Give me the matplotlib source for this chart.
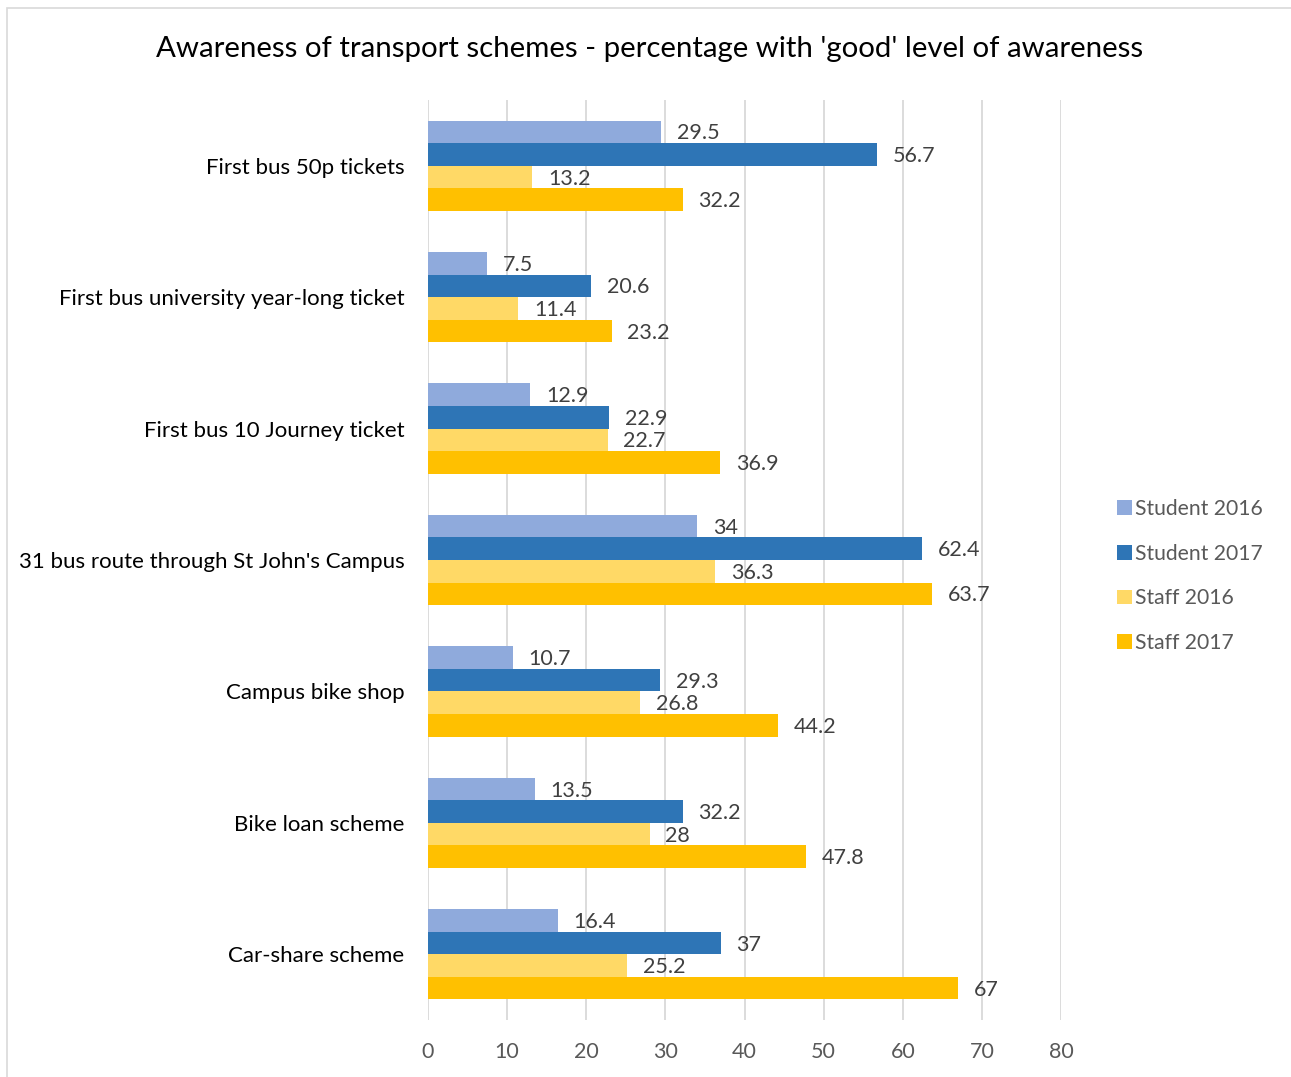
import numpy as np
import matplotlib.pyplot as plt
from matplotlib.patches import Rectangle

# chart data, top to bottom
categories = [
    "First bus 50p tickets",
    "First bus university year-long ticket",
    "First bus 10 Journey ticket",
    "31 bus route through St John's Campus",
    "Campus bike shop",
    "Bike loan scheme",
    "Car-share scheme",
]
series_names = ["Student 2016", "Student 2017", "Staff 2016", "Staff 2017"]
student_2016 = [29.5, 7.5, 12.9, 34, 10.7, 13.5, 16.4]
student_2017 = [56.7, 20.6, 22.9, 62.4, 29.3, 32.2, 37]
staff_2016 = [13.2, 11.4, 22.7, 36.3, 26.8, 28, 25.2]
staff_2017 = [32.2, 23.2, 36.9, 63.7, 44.2, 47.8, 67]
x_ticks = [0, 10, 20, 30, 40, 50, 60, 70, 80]

colors = ["#8FAADC", "#2E75B6", "#FFD966", "#FFC000"]
font = ["Lato", "DejaVu Sans"]
plt.rcParams['font.family'] = font

fig = plt.figure(figsize=(12.91, 10.77), dpi=100)
ax = fig.add_axes([428 / 1291, 1 - 1020 / 1077, (1061 - 428) / 1291, (1020 - 100) / 1077])

# light frame like the Excel chart area
fig.patches.append(Rectangle((7 / 1291, -0.01), 1.0, 1 - 8 / 1077 + 0.01,
                             transform=fig.transFigure, fill=False,
                             edgecolor="#D9D9D9", linewidth=1.2))

y = np.arange(len(categories))
bar_h = 0.172
all_series = [student_2016, student_2017, staff_2016, staff_2017]
for i, (vals, name, c) in enumerate(zip(all_series, series_names, colors)):
    offs = (i - 1.5) * bar_h
    bars = ax.barh(y + offs, vals, height=bar_h, color=c, label=name)
    for b, v in zip(bars, vals):
        ax.text(b.get_width() + 2.0, b.get_y() + b.get_height() / 2 + 0.012, f"{v:g}",
                va="center", ha="left", fontsize=15.5, color="#404040")

ax.set_xlim(0, 80)
ax.set_ylim(6.5, -0.5)
ax.set_xticks(x_ticks)
ax.set_yticks(y)
ax.set_yticklabels(categories, fontsize=16, color="#000000")
ax.tick_params(axis="y", length=0, pad=17)
ax.tick_params(axis="x", length=0, pad=16, labelsize=15.5, labelcolor="#595959")
ax.xaxis.grid(True, color="#D9D9D9", linewidth=1.3)
ax.set_axisbelow(True)
for s in ax.spines.values():
    s.set_visible(False)

fig.text(650 / 1291, 1 - 49 / 1077, "Awareness of transport schemes - percentage with 'good' level of awareness",
         ha="center", va="center", fontsize=21.2, color="#000000")

leg = fig.legend(loc="center left", bbox_to_anchor=(1098 / 1291, 1 - 576 / 1077),
                 frameon=False, fontsize=15.2, labelspacing=1.17,
                 handlelength=0.7, handleheight=0.7, handletextpad=0.15)
for t in leg.get_texts():
    t.set_color("#595959")

fig.savefig("out.png", dpi=100)
